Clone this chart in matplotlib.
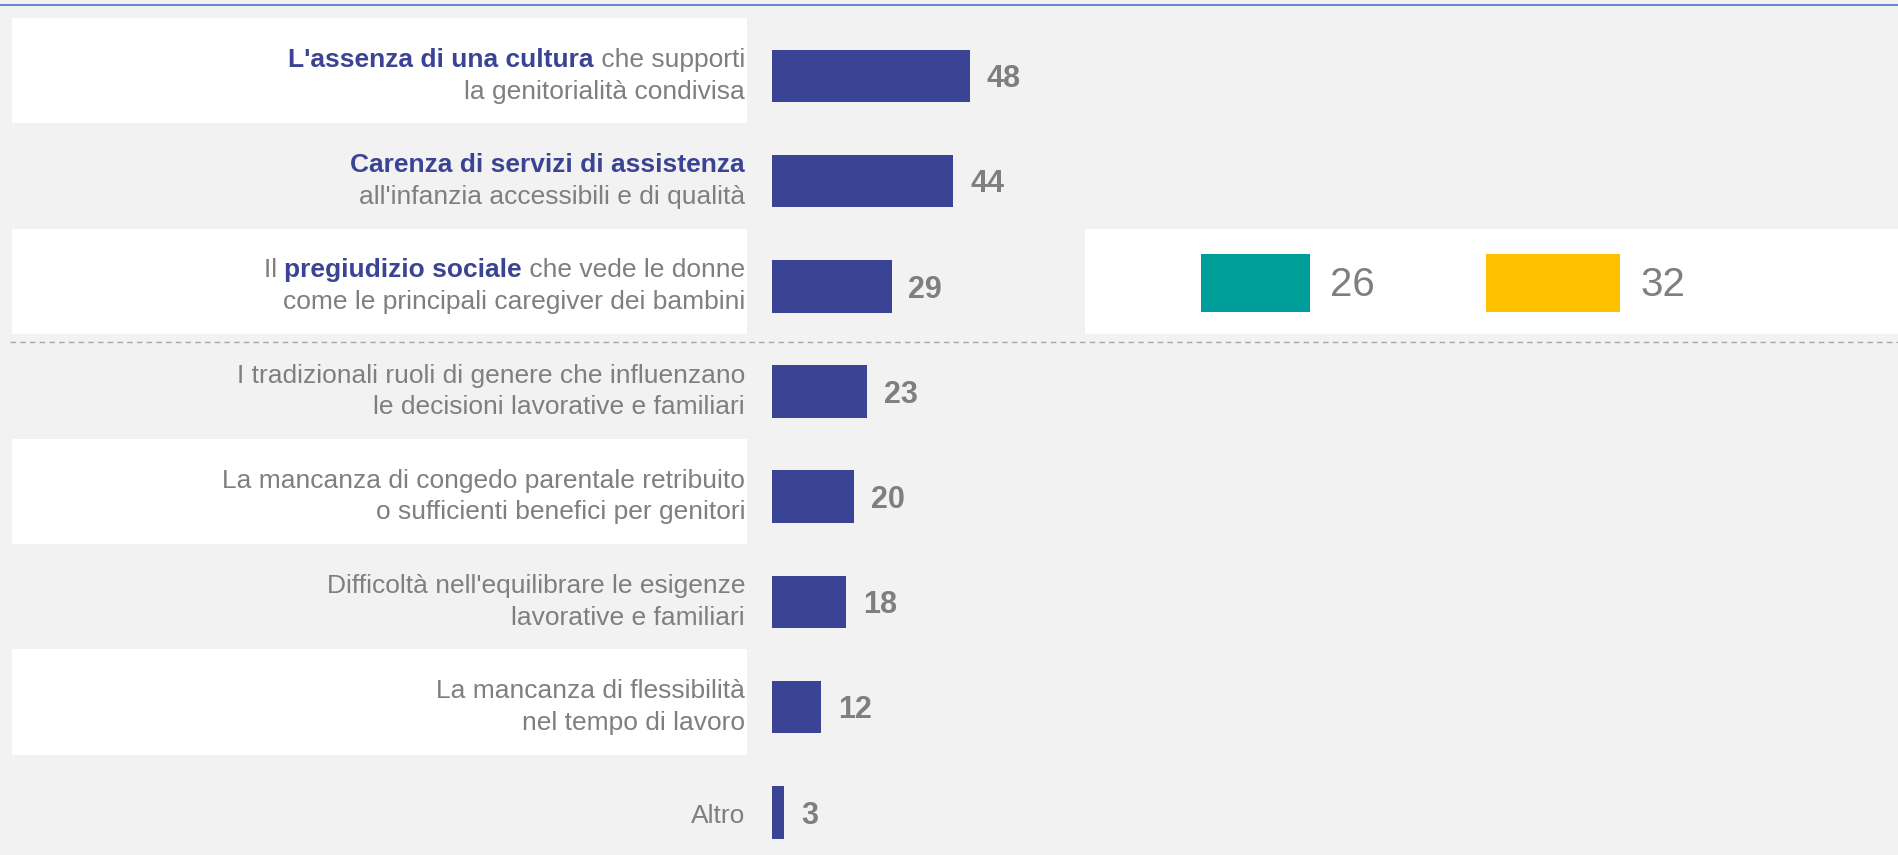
import numpy as np
import matplotlib
matplotlib.use("Agg")
import matplotlib.pyplot as plt
import matplotlib.transforms as mtransforms
from matplotlib.lines import Line2D

plt.rcParams['font.family'] = ['Liberation Sans', 'DejaVu Sans']

# data: each label is a list of lines, each line a list of (text, highlighted)
labels = [
    [[("L'assenza di una cultura", True), (" che supporti", False)],
     [("la genitorialità condivisa", False)]],
    [[("Carenza di servizi di assistenza", True)],
     [("all'infanzia accessibili e di qualità", False)]],
    [[("Il ", False), ("pregiudizio sociale", True), (" che vede le donne", False)],
     [("come le principali caregiver dei bambini", False)]],
    [[("I tradizionali ruoli di genere che influenzano", False)],
     [("le decisioni lavorative e familiari", False)]],
    [[("La mancanza di congedo parentale retribuito", False)],
     [("o sufficienti benefici per genitori", False)]],
    [[("Difficoltà nell'equilibrare le esigenze", False)],
     [("lavorative e familiari", False)]],
    [[("La mancanza di flessibilità", False)],
     [("nel tempo di lavoro", False)]],
    [[("Altro", False)]],
]
values = [48, 44, 29, 23, 20, 18, 12, 3]

# side comparison for the third row
side_values = [26, 32]
side_colors = ['#009E9A', '#FFC000']
side_lefts = [104.1, 173.3]

BG = '#F2F2F2'
NAVY = '#3B4494'
GRAY = '#7F7F7F'

fig = plt.figure(figsize=(18.98, 8.55), dpi=100, facecolor=BG)
ax = fig.add_axes([0, 0, 1, 1])
ax.set_facecolor(BG)
ax.set_xlim(-187.4, 273.3)
ax.set_ylim(7.405, -0.7224)
ax.axis('off')

rows = np.arange(len(values))

# alternating white bands behind the labels
for i in rows[::2]:
    ax.axhspan(i - 0.55, i + 0.45, xmin=0.0063, xmax=0.3936, color='white', zorder=0, lw=0)
ax.axhspan(1.45, 2.45, xmin=0.5717, xmax=1.0, color='white', zorder=0, lw=0)

ax.barh(rows, values, height=0.5, color=NAVY, zorder=2)
for i, v in zip(rows, values):
    ax.text(v + 4.1, i + 0.107, str(v), ha='left', va='baseline',
            fontsize=22, fontweight='bold', color=GRAY)

for v, c, left in zip(side_values, side_colors, side_lefts):
    ax.barh(2 - 0.035, v * 1.02, left=left, height=0.548, color=c, zorder=2)
    ax.text(left + v * 1.02 + 4.9, 2 + 0.088, str(v), ha='left', va='baseline',
            fontsize=29, color=GRAY)

# separator and top rule
ax.axhline(2.528, xmin=0.0055, xmax=1.0, color='#A6A6A6', lw=1, ls=(0, (4, 3)))
fig.add_artist(Line2D([0, 1], [0.9947, 0.9947], color='#4A76C6', lw=1.2,
                      transform=fig.transFigure))

# labels with mixed formatting, drawn right to left
fig.canvas.draw()
renderer = fig.canvas.get_renderer()
text_x = -6.55


def draw_line(y, segments):
    off = 0
    for txt, hl in reversed(segments):
        tr = mtransforms.offset_copy(ax.transData, fig=fig, x=-off, y=0, units='dots')
        t = ax.text(text_x, y, txt, transform=tr, ha='right', va='baseline',
                    fontsize=19, color=NAVY if hl else GRAY,
                    fontweight='bold' if hl else 'normal')
        off += t.get_window_extent(renderer).width


for i, lab in zip(rows, labels):
    if len(lab) == 2:
        draw_line(i - 0.085, lab[0])
        draw_line(i + 0.215, lab[1])
    else:
        draw_line(i + 0.10, lab[0])

fig.savefig('out.png', dpi=100, facecolor=BG)
